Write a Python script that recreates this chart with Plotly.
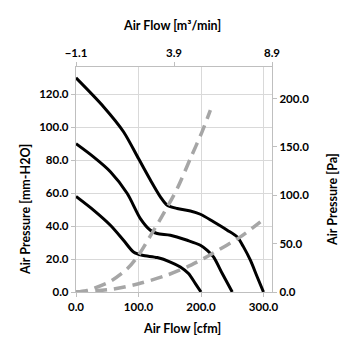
import plotly.graph_objects as go

# ---- data ----
cfm_high = [0, 44, 76, 100, 119, 135, 146, 162, 183, 199, 220, 242, 258, 268, 279, 290, 300]
mm_high = [130, 112.5, 97.3, 81, 68, 57.8, 52.7, 50.7, 49.2, 47.2, 42.6, 37.5, 33.4, 27.4, 19.3, 9.1, 0]

cfm_mid = [0, 28, 55, 82, 103, 119, 130, 151, 178, 199, 210, 220, 234, 250]
mm_mid = [90, 82, 73, 59.8, 44.6, 37.5, 35.5, 34.5, 31.4, 28.4, 25.3, 21.3, 11.2, 0]

cfm_low = [0, 28, 55, 76, 92, 106, 130, 151, 167, 180, 191, 200]
mm_low = [58, 49.7, 40.5, 31.4, 24.3, 22.3, 20.9, 18.2, 15.2, 11.2, 5.1, 0]

cfm_sys1 = [0, 18, 55, 82, 100, 119, 140, 162, 183, 202, 215]
pa_sys1 = [0, 1.7, 11, 24, 38, 58, 81, 107, 138, 166, 188]

cfm_sys2 = [0, 60, 100, 146, 178, 204, 215, 263, 295]
pa_sys2 = [0, 3, 8.5, 17.5, 26, 34.5, 38.5, 57, 72.5]

x_ticks = [0, 100, 200, 300]
x2_ticks = [-1.1, 3.9, 8.9]
y_ticks = [0, 20, 40, 60, 80, 100, 120]
y2_ticks = [0, 50, 100, 150, 200]

FONT = "Lato"
TICKFONT = dict(family=FONT, size=11.5, color="#000000", weight="bold")
TITLEFONT = dict(family=FONT, size=12.5, color="#000000", weight="bold")
AXCOL = "#BFBFBF"
GRIDCOL = "#D9D9D9"

fig = go.Figure()
for xs, ys in [(cfm_high, mm_high), (cfm_mid, mm_mid), (cfm_low, mm_low)]:
    fig.add_trace(go.Scatter(x=xs, y=ys, mode="lines", xaxis="x", yaxis="y",
                             line=dict(color="#000000", width=3, shape="spline", smoothing=0.8),
                             showlegend=False, hoverinfo="skip"))
for xs, ys in [(cfm_sys1, pa_sys1), (cfm_sys2, pa_sys2)]:
    fig.add_trace(go.Scatter(x=xs, y=ys, mode="lines", xaxis="x", yaxis="y2",
                             line=dict(color="#A6A6A6", width=3.5, shape="spline", smoothing=0.8,
                                       dash="12px,7px"),
                             showlegend=False, hoverinfo="skip"))
# empty helper trace so the top (m³/min) axis is drawn
fig.add_trace(go.Scatter(x=x2_ticks, y=[None] * len(x2_ticks), mode="lines", xaxis="x2", yaxis="y",
                         showlegend=False, hoverinfo="skip"))

common = dict(showline=True, linecolor=AXCOL, linewidth=1.3, ticks="outside", ticklen=4,
              tickcolor=AXCOL, zeroline=False, tickfont=TICKFONT, automargin=False,
              tickformat=".1f", fixedrange=True)

# page body has an 8px margin, so the figure is 8px smaller and margins shifted
OFF = 8
FW, FH = 355 - OFF, 355 - OFF
ML, MR, MT, MB = 76 - OFF, 83, 67 - OFF, 63

fig.update_layout(
    width=FW, height=FH, autosize=False,
    margin=dict(l=ML, r=MR, t=MT, b=MB, autoexpand=False),
    paper_bgcolor="white", plot_bgcolor="white",
    xaxis=dict(range=[0, 313.6], tickvals=x_ticks, showgrid=True, gridcolor=GRIDCOL,
               gridwidth=1.3, anchor="y", **common),
    xaxis2=dict(range=[-1.1, 8.9], tickvals=x2_ticks, overlaying="x", side="top", anchor="y",
                showgrid=False, **common),
    yaxis=dict(range=[0, 136.6], tickvals=y_ticks, showgrid=True, gridcolor=GRIDCOL,
               gridwidth=1.3, anchor="x", **common),
    yaxis2=dict(range=[0, 232.6], tickvals=y2_ticks, overlaying="y", side="right", anchor="x",
                showgrid=False, **common),
)

W = FW - ML - MR
H = FH - MT - MB
def px_x(p):
    return (p - OFF - ML) / W
def px_y(p):
    return (FH - MB - (p - OFF)) / H

fig.add_annotation(text="Air Flow [m³/min]", xref="paper", yref="paper", x=px_x(172), y=px_y(26),
                   showarrow=False, font=TITLEFONT, xanchor="center", yanchor="middle")
fig.add_annotation(text="Air Flow [cfm]", xref="paper", yref="paper", x=px_x(182), y=px_y(328),
                   showarrow=False, font=TITLEFONT, xanchor="center", yanchor="middle")
fig.add_annotation(text="Air Pressure [mm-H2O]", xref="paper", yref="paper", x=px_x(25), y=px_y(210),
                   showarrow=False, font=TITLEFONT, xanchor="center", yanchor="middle", textangle=-90)
fig.add_annotation(text="Air Pressure [Pa]", xref="paper", yref="paper", x=px_x(332), y=px_y(200),
                   showarrow=False, font=TITLEFONT, xanchor="center", yanchor="middle", textangle=-90)

fig.write_html("out.html", config={"displayModeBar": False})
